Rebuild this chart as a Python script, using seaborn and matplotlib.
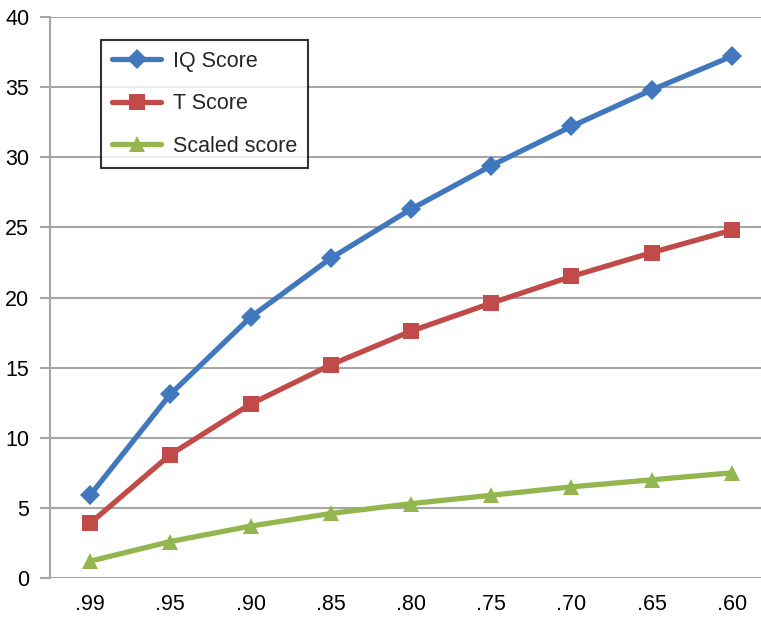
import matplotlib
matplotlib.use("Agg")
import matplotlib.pyplot as plt
import seaborn as sns
import pandas as pd

# Reliability levels shown along the horizontal axis
reliability = [".99", ".95", ".90", ".85", ".80", ".75", ".70", ".65", ".60"]

iq_score = [5.9, 13.1, 18.6, 22.8, 26.3, 29.4, 32.2, 34.8, 37.2]
t_score = [3.9, 8.8, 12.4, 15.2, 17.6, 19.6, 21.5, 23.2, 24.8]
scaled_score = [1.2, 2.6, 3.7, 4.6, 5.3, 5.9, 6.5, 7.0, 7.5]

series_names = ["IQ Score", "T Score", "Scaled score"]
series_values = [iq_score, t_score, scaled_score]
colors = ["#4177BC", "#C04B48", "#94B64F"]
markers = ["D", "s", "^"]
marker_sizes = [10, 12, 12]

rows = []
for name, vals in zip(series_names, series_values):
    for i, v in enumerate(vals):
        rows.append({"pos": i, "value": v, "series": name})
df = pd.DataFrame(rows)

sns.set_theme(style="white")
plt.rcParams["font.family"] = ["Liberation Sans", "DejaVu Sans"]

fig = plt.figure(figsize=(7.61, 6.17), dpi=100)
W, H = 761, 617
left, right, top, bottom = 50, 772, 17, 578
ax = fig.add_axes([left / W, (H - bottom) / H, (right - left) / W, (bottom - top) / H])

for name, c, m, ms in zip(series_names, colors, markers, marker_sizes):
    sub = df[df["series"] == name]
    sns.lineplot(data=sub, x="pos", y="value", ax=ax, color=c, linewidth=3.8,
                 marker=m, markersize=ms, markeredgewidth=0, label=name,
                 sort=False, zorder=3)

ax.set_xlim(-0.5, len(reliability) - 0.5)
ax.set_ylim(0, 40)
ax.set_xticks(range(len(reliability)))
ax.set_xticklabels(reliability)
ax.set_yticks(range(0, 41, 5))
ax.set_xlabel("")
ax.set_ylabel("")

grid_color = "#A6A6A6"
ax.yaxis.grid(True, color=grid_color, linewidth=1.5)
ax.xaxis.grid(False)
for side in ["top", "right", "bottom"]:
    ax.spines[side].set_visible(False)
ax.spines["left"].set_color(grid_color)
ax.spines["left"].set_linewidth(1.5)

ax.tick_params(axis="y", which="both", left=True, length=7, width=1.5,
               color=grid_color, labelsize=15.5, pad=8, labelcolor="black")
ax.tick_params(axis="x", which="both", bottom=False, length=0, labelsize=15.5,
               pad=11.5, labelcolor="black")

leg = ax.legend(loc="upper left", bbox_to_anchor=(101 / W, 1 - 40 / H),
                bbox_transform=fig.transFigure, borderaxespad=0,
                frameon=True, fancybox=False, fontsize=15.5,
                handlelength=2.3, handletextpad=0.55, labelspacing=1.0,
                borderpad=0.5, edgecolor="black")
leg.get_frame().set_linewidth(1.5)

fig.savefig("out.png", dpi=100)
